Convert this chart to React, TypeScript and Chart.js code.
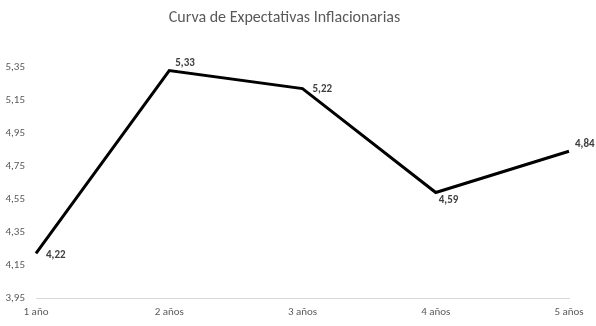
import React, { useEffect, useRef } from "react";
import { Chart, registerables } from "chart.js";

Chart.register(...registerables);

const categories = ["1 año", "2 años", "3 años", "4 años", "5 años"];
const expectativas = [4.22, 5.33, 5.22, 4.59, 4.84];
const labelPlacement = ["right", "above", "right", "below", "above"];
const titleText = "Curva de Expectativas Inflacionarias";
const yMin = 3.95;
const yMax = 5.35;
const yStep = 0.2;

const FONT = "Carlito, 'Liberation Sans Narrow', 'Open Sans', sans-serif";

const fmt = (v: number) => v.toFixed(2).replace(".", ",");

const dataLabelPlugin = {
  id: "dataLabels",
  afterDatasetsDraw(chart: any) {
    const ctx = chart.ctx;
    const meta = chart.getDatasetMeta(0);
    const ds = chart.data.datasets[0];
    ctx.save();
    ctx.font = `bold 11px ${FONT}`;
    ctx.fillStyle = "#404040";
    ctx.textAlign = "left";
    ctx.textBaseline = "middle";
    meta.data.forEach((pt: any, i: number) => {
      const v = ds.data[i] as number;
      const p = labelPlacement[i];
      let dx = 8, dy = 0;
      if (p === "right") { dx = 10; dy = i === 0 ? 2 : 1; }
      if (p === "above") { dx = 6; dy = -7; }
      if (p === "below") { dx = 3; dy = 8; }
      ctx.fillText(fmt(v), pt.x + dx, pt.y + dy);
    });
    ctx.restore();
  },
};

export default function App() {
  const ref = useRef<HTMLCanvasElement | null>(null);
  useEffect(() => {
    document.body.style.margin = "0";
    if (!ref.current) return;
    const chart = new Chart(ref.current, {
      type: "line",
      data: {
        labels: categories,
        datasets: [
          {
            data: expectativas,
            borderColor: "#000000",
            borderWidth: 3,
            pointRadius: 0,
            tension: 0,
            fill: false,
          },
        ],
      },
      options: {
        animation: false,
        responsive: false,
        maintainAspectRatio: false,
        layout: { padding: { left: 0, right: 27, top: 0, bottom: 0 } },
        plugins: {
          legend: { display: false },
          tooltip: { enabled: false },
          title: {
            display: true,
            text: titleText,
            color: "#595959",
            font: { family: FONT, size: 16, weight: "normal" },
            padding: { top: 8, bottom: 40 },
          },
        },
        scales: {
          x: {
            offset: false,
            grid: { display: false, drawTicks: false },
            border: { display: true, color: "#d9d9d9", width: 1 },
            ticks: {
              color: "#595959",
              font: { family: FONT, size: 11 },
              padding: 8,
              maxRotation: 0,
              autoSkip: false,
            },
            afterFit: (scale: any) => {
              scale.height = 28;
            },
          },
          y: {
            min: yMin,
            max: yMax,
            grid: { display: false, drawTicks: false },
            border: { display: false },
            ticks: {
              stepSize: yStep,
              color: "#595959",
              font: { family: FONT, size: 11 },
              padding: 11,
              callback: (v: any) => fmt(Number(v)),
            },
            afterFit: (scale: any) => {
              scale.width = 36;
            },
          },
        },
      },
      plugins: [dataLabelPlugin],
    });
    return () => chart.destroy();
  }, []);
  return <canvas ref={ref} width={596} height={326} style={{ display: "block" }} />;
}
